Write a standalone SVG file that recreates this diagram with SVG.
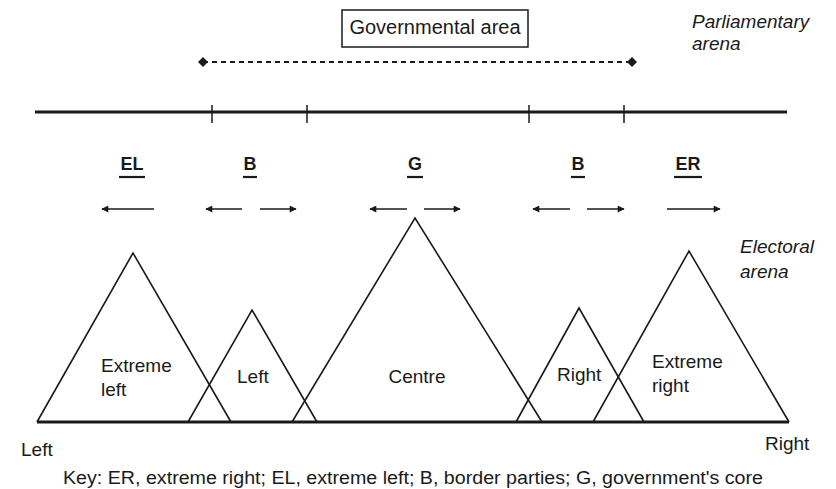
<svg xmlns="http://www.w3.org/2000/svg" width="836" height="489" viewBox="0 0 836 489">
<defs>
<marker id="ah" viewBox="0 0 10 10" refX="9" refY="5" markerWidth="10" markerHeight="7" markerUnits="userSpaceOnUse" orient="auto"><path d="M0,0 L10,5 L0,10 Z" fill="#1a1a1a"/></marker>
<marker id="dm" viewBox="0 0 10 10" refX="5" refY="5" markerWidth="10" markerHeight="10" markerUnits="userSpaceOnUse" orient="auto"><path d="M5,0 L10,5 L5,10 L0,5 Z" fill="#1a1a1a"/></marker>
</defs>
<style>
text{font-family:"Liberation Sans",Arial,sans-serif;fill:#1a1a1a}
.lab{font-size:19px}
.it{font-size:19px;font-style:italic}
.b{font-size:18px;font-weight:bold;text-anchor:middle}
.ul{stroke:#1a1a1a;stroke-width:2.2}
.tri{fill:none;stroke:#1a1a1a;stroke-width:1.6;stroke-linejoin:miter}
.arr{stroke:#1a1a1a;stroke-width:1.5;marker-end:url(#ah)}
.tick{stroke:#1a1a1a;stroke-width:1.5}
</style>
<rect width="836" height="489" fill="#ffffff"/>
<g id="gov-area">
<rect x="342" y="10" width="186" height="37" fill="none" stroke="#1a1a1a" stroke-width="1.5"/>
<text x="435" y="34" text-anchor="middle" font-size="20">Governmental area</text>
</g>
<g id="parl-label">
<text class="it" x="692" y="28">Parliamentary</text>
<text class="it" x="692" y="50">arena</text>
</g>
<g id="connectors">
<line x1="203" y1="62" x2="632" y2="62" stroke="#1a1a1a" stroke-width="2" stroke-dasharray="5,4" marker-start="url(#dm)" marker-end="url(#dm)"/>
<line x1="35" y1="112" x2="787" y2="112" stroke="#1a1a1a" stroke-width="3.2"/>
<line class="tick" x1="212" y1="105" x2="212" y2="123"/>
<line class="tick" x1="307" y1="105" x2="307" y2="123"/>
<line class="tick" x1="529" y1="105" x2="529" y2="123"/>
<line class="tick" x1="624" y1="105" x2="624" y2="123"/>
<line class="arr" x1="154" y1="209" x2="102" y2="209"/>
<line class="arr" x1="242" y1="209" x2="206" y2="209"/>
<line class="arr" x1="260" y1="209" x2="296" y2="209"/>
<line class="arr" x1="407" y1="209" x2="370" y2="209"/>
<line class="arr" x1="424" y1="209" x2="460" y2="209"/>
<line class="arr" x1="570" y1="209" x2="533" y2="209"/>
<line class="arr" x1="587" y1="209" x2="624" y2="209"/>
<line class="arr" x1="667" y1="209" x2="720" y2="209"/>
<line x1="37" y1="422" x2="789" y2="422" stroke="#1a1a1a" stroke-width="3"/>
</g>
<g id="labels-EL"><text class="b" x="132" y="170">EL</text><line class="ul" x1="119" y1="177" x2="145" y2="177"/></g>
<g id="labels-B1"><text class="b" x="250" y="170">B</text><line class="ul" x1="243" y1="177" x2="257" y2="177"/></g>
<g id="labels-G"><text class="b" x="415" y="170">G</text><line class="ul" x1="407" y1="177" x2="423" y2="177"/></g>
<g id="labels-B2"><text class="b" x="578" y="170">B</text><line class="ul" x1="571" y1="177" x2="585" y2="177"/></g>
<g id="labels-ER"><text class="b" x="688" y="170">ER</text><line class="ul" x1="674" y1="177" x2="702" y2="177"/></g>
<g id="extreme-left">
<path class="tri" d="M37,422 L133,253 L231,422"/>
<text class="lab" x="101" y="372">Extreme</text>
<text class="lab" x="101" y="396">left</text>
</g>
<g id="left">
<path class="tri" d="M188,422 L252,310 L317,422"/>
<text class="lab" x="237" y="383">Left</text>
</g>
<g id="centre">
<path class="tri" d="M292,422 L415,218 L542,422"/>
<text class="lab" x="417" y="383" text-anchor="middle">Centre</text>
</g>
<g id="right">
<path class="tri" d="M516,422 L579,308 L644,422"/>
<text class="lab" x="557" y="381">Right</text>
</g>
<g id="extreme-right">
<path class="tri" d="M593,422 L689,251 L789,422"/>
<text class="lab" x="652" y="368">Extreme</text>
<text class="lab" x="652" y="392">right</text>
</g>
<g id="electoral-label">
<text class="it" x="740" y="253">Electoral</text>
<text class="it" x="740" y="278">arena</text>
</g>
<g id="axis-ends">
<text class="lab" x="21" y="456">Left</text>
<text class="lab" x="765" y="450">Right</text>
</g>
<g id="key">
<text x="63" y="484" font-size="18" textLength="700" lengthAdjust="spacingAndGlyphs">Key: ER, extreme right; EL, extreme left; B, border parties; G, government's core</text>
</g>
</svg>
